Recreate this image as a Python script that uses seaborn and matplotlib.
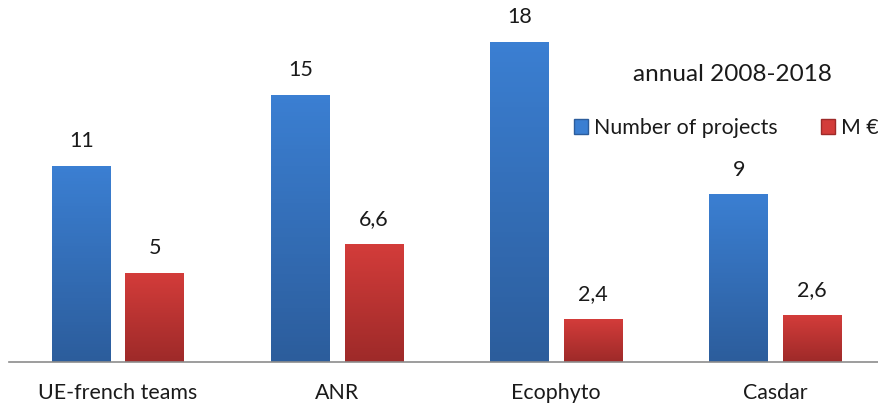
import matplotlib
matplotlib.use("Agg")
import matplotlib.pyplot as plt
from matplotlib.patches import Patch
import seaborn as sns
import pandas as pd
import numpy as np

sns.set_style("white")
plt.rcParams['font.family'] = ['Lato', 'DejaVu Sans']

# data
categories = ["UE-french teams", "ANR", "Ecophyto", "Casdar"]
projects = [11, 15, 18, 9.4]
projects_txt = ["11", "15", "18", "9"]
money = [5, 6.6, 2.4, 2.6]
money_txt = ["5", "6,6", "2,4", "2,6"]
series = ["Number of projects", "M \u20ac"]

df = pd.DataFrame({
    "cat": categories * 2,
    "value": projects + money,
    "serie": [series[0]] * 4 + [series[1]] * 4,
})

blue_top, blue_bot = "#3b7fd2", "#2c5d9c"
red_top, red_bot = "#d33c3a", "#9e2a29"

fig = plt.figure(figsize=(8.79, 4.05), dpi=100)
ax = fig.add_axes([0.0097, 0.105, 0.997, 0.895])

sns.barplot(data=df, x="cat", y="value", hue="serie", palette=[blue_top, red_top],
            width=0.67, gap=0.2, ax=ax, legend=False)


def grad(c1, c2):
    a = np.array(matplotlib.colors.to_rgb(c1))
    b = np.array(matplotlib.colors.to_rgb(c2))
    t = np.linspace(0, 1, 64)[:, None]
    return (a * (1 - t) + b * t)[:, None, :]


# gradient fill on each bar, labels on top
bars = ax.patches
labels = projects_txt + money_txt
for i, p in enumerate(bars):
    top, bot = (blue_top, blue_bot) if i < 4 else (red_top, red_bot)
    x0, w, h = p.get_x(), p.get_width(), p.get_height()
    p.set_facecolor("none")
    p.set_edgecolor("none")
    ax.imshow(grad(top, bot), extent=(x0, x0 + w, 0, h), aspect="auto",
              origin="upper", zorder=2)
    ax.text(x0 + w / 2, h + 1.45, labels[i], ha="center", va="center",
            fontsize=15.5, color="#1a1a1a")

ax.set_xlim(-0.5, 3.5)
ax.set_ylim(0, 20.4)

sns.despine(ax=ax, left=True, top=True, right=True)
ax.spines["bottom"].set_color("#8c8c8c")
ax.spines["bottom"].set_linewidth(1.2)
ax.set_yticks([])
ax.set_xlabel("")
ax.set_ylabel("")
ax.tick_params(axis="x", length=0, pad=15, labelsize=15.4, labelcolor="#1a1a1a")

fig.text(0.833, 0.815, "annual 2008-2018", ha="center", va="center",
         fontsize=17.5, color="#1a1a1a")

handles = [Patch(facecolor=blue_top, edgecolor=blue_bot), Patch(facecolor=red_top, edgecolor=red_bot)]
fig.legend(handles, series, loc="center", bbox_to_anchor=(0.8265, 0.684), ncol=2,
           frameon=False, fontsize=15.4, handlelength=0.65, handleheight=0.65,
           handletextpad=0.3, columnspacing=2.0, labelcolor="#1a1a1a")

fig.savefig("out.png", dpi=100)
